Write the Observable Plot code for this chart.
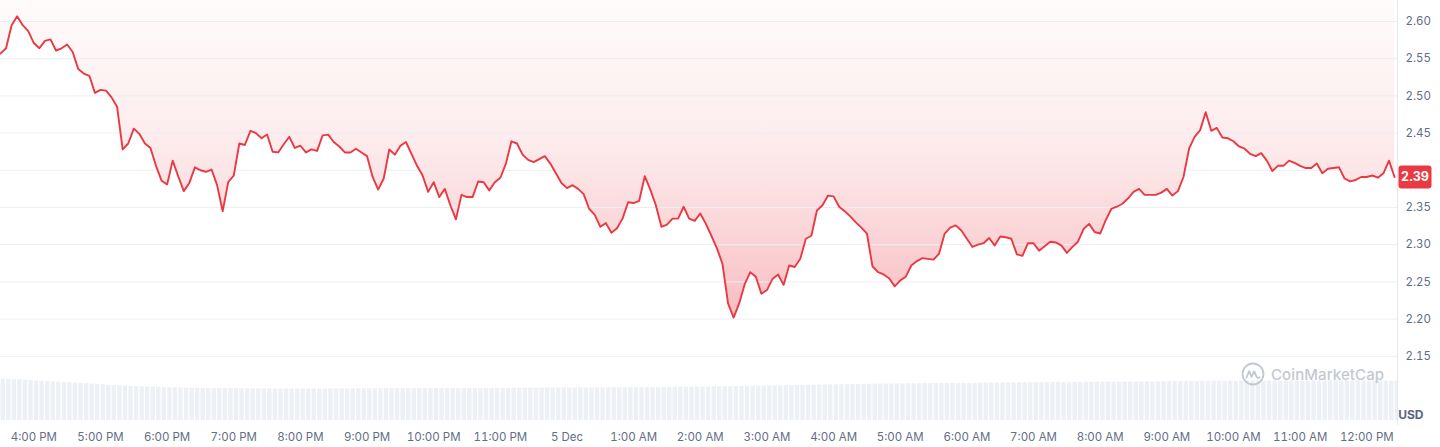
<!DOCTYPE html>
<html>
<head>
<meta charset="utf-8">
<script src="https://cdn.jsdelivr.net/npm/d3@7"></script>
<script src="https://cdn.jsdelivr.net/npm/@observablehq/plot@0.6"></script>
<style>
  html, body { margin: 0; padding: 0; background: #ffffff; }
  #wrap { position: relative; width: 1440px; height: 447px; overflow: hidden; font-family: Inter, sans-serif; }
  #wrap > .layer { position: absolute; left: 0; top: 0; }
  #wm { position: absolute; left: 1241px; top: 362px; display: flex; align-items: center; gap: 6px;
        color: #c3c8d0; font-family: Inter, sans-serif; font-size: 15px; font-weight: 500; letter-spacing: 0.1px; }
</style>
</head>
<body>
<div id="wrap"></div>
<script>
// ---- data (5-minute points from 3:30 PM, 4 Dec) ----
const startTime = Date.UTC(2024, 11, 4, 15, 30);
const endTime = Date.UTC(2024, 11, 5, 12, 27, 40);
const stepMinutes = 5;

const prices = [
  2.557, 2.564, 2.595, 2.607, 2.595, 2.587, 2.571, 2.564, 2.574, 2.576, 2.561, 2.564,
  2.569, 2.559, 2.536, 2.530, 2.527, 2.504, 2.508, 2.507, 2.498, 2.485, 2.428, 2.436,
  2.456, 2.449, 2.436, 2.430, 2.406, 2.386, 2.381, 2.413, 2.392, 2.372, 2.383, 2.404,
  2.400, 2.398, 2.401, 2.380, 2.345, 2.384, 2.393, 2.436, 2.434, 2.453, 2.450, 2.443,
  2.448, 2.425, 2.424, 2.435, 2.445, 2.430, 2.433, 2.424, 2.428, 2.426, 2.447, 2.448,
  2.438, 2.432, 2.424, 2.424, 2.429, 2.424, 2.419, 2.391, 2.374, 2.389, 2.428, 2.421,
  2.433, 2.438, 2.422, 2.406, 2.393, 2.371, 2.384, 2.364, 2.375, 2.353, 2.334, 2.367,
  2.364, 2.364, 2.385, 2.384, 2.373, 2.384, 2.390, 2.409, 2.439, 2.436, 2.421, 2.414,
  2.411, 2.415, 2.419, 2.409, 2.396, 2.383, 2.376, 2.380, 2.375, 2.368, 2.348, 2.340,
  2.324, 2.329, 2.316, 2.322, 2.335, 2.357, 2.356, 2.359, 2.392, 2.374, 2.353, 2.324,
  2.327, 2.335, 2.335, 2.351, 2.335, 2.332, 2.342, 2.328, 2.312, 2.295, 2.274, 2.221,
  2.202, 2.221, 2.247, 2.263, 2.257, 2.234, 2.239, 2.254, 2.260, 2.246, 2.272, 2.270,
  2.281, 2.308, 2.312, 2.346, 2.353, 2.366, 2.365, 2.351, 2.345, 2.338, 2.330, 2.323,
  2.315, 2.271, 2.263, 2.260, 2.255, 2.244, 2.252, 2.257, 2.272, 2.278, 2.282, 2.281,
  2.280, 2.288, 2.315, 2.323, 2.326, 2.319, 2.308, 2.297, 2.300, 2.302, 2.309, 2.299,
  2.311, 2.310, 2.308, 2.287, 2.285, 2.302, 2.302, 2.292, 2.298, 2.304, 2.303, 2.299,
  2.289, 2.297, 2.304, 2.321, 2.328, 2.317, 2.315, 2.333, 2.348, 2.351, 2.355, 2.362,
  2.371, 2.375, 2.367, 2.367, 2.367, 2.370, 2.375, 2.366, 2.372, 2.391, 2.429, 2.445,
  2.454, 2.478, 2.453, 2.457, 2.444, 2.443, 2.439, 2.432, 2.429, 2.422, 2.419, 2.423,
  2.413, 2.399, 2.406, 2.406, 2.413, 2.410, 2.406, 2.403, 2.403, 2.409, 2.396, 2.402,
  2.403, 2.404, 2.389, 2.385, 2.387, 2.391, 2.391, 2.393, 2.390, 2.396, 2.413, 2.391
];

// 24h volume (millions USD)
const volumes = [
  845, 842, 838, 830, 826, 818, 808, 800, 795, 790, 784, 778,
  772, 765, 760, 752, 744, 738, 730, 722, 716, 710, 704, 700,
  696, 690, 686, 682, 678, 674, 670, 668, 665, 662, 660, 660,
  658, 656, 655, 654, 652, 652, 650, 650, 649, 648, 648, 648,
  647, 647, 646, 646, 646, 645, 645, 645, 646, 646, 646, 647,
  647, 648, 648, 648, 649, 649, 650, 650, 650, 651, 651, 652,
  652, 652, 653, 653, 654, 654, 654, 655, 655, 656, 656, 656,
  657, 657, 658, 658, 658, 659, 659, 660, 660, 661, 661, 662,
  662, 663, 663, 664, 664, 665, 665, 666, 667, 667, 668, 668,
  669, 670, 670, 671, 672, 672, 673, 674, 675, 675, 676, 677,
  678, 679, 680, 681, 682, 683, 684, 686, 687, 688, 690, 692,
  694, 696, 698, 700, 702, 704, 706, 708, 710, 712, 714, 716,
  718, 720, 722, 724, 726, 728, 730, 732, 734, 736, 738, 740,
  742, 744, 745, 746, 747, 748, 749, 750, 751, 752, 753, 754,
  755, 756, 757, 758, 759, 760, 761, 762, 763, 764, 765, 766,
  767, 768, 769, 770, 771, 772, 773, 774, 775, 776, 777, 778,
  779, 780, 781, 782, 783, 784, 784, 785, 785, 786, 786, 786,
  787, 788, 789, 790, 791, 792, 793, 794, 795, 796, 797, 797,
  798, 799, 800, 801, 802, 803, 804, 805, 806, 806, 807, 807,
  808, 808, 809, 809, 810, 810, 810, 811, 811, 811, 811, 812,
  812, 812, 812, 811, 811, 811, 810, 810, 809, 808, 806, 804
];

const xTickLabels = ["4:00 PM", "5:00 PM", "6:00 PM", "7:00 PM", "8:00 PM", "9:00 PM", "10:00 PM",
  "11:00 PM", "5 Dec", "1:00 AM", "2:00 AM", "3:00 AM", "4:00 AM", "5:00 AM", "6:00 AM",
  "7:00 AM", "8:00 AM", "9:00 AM", "10:00 AM", "11:00 AM", "12:00 PM"];
const firstTick = Date.UTC(2024, 11, 4, 16, 0);

const yGrid = [2.15, 2.20, 2.25, 2.30, 2.35, 2.40, 2.45, 2.50, 2.55, 2.60];
const yTickLabels = [2.15, 2.20, 2.25, 2.30, 2.35, 2.45, 2.50, 2.55, 2.60];
const yDomain = [2.0637, 2.6282];
const currency = "USD";

// ---- derived tables ----
const series = prices.map((p, i) => ({ time: new Date(startTime + i * stepMinutes * 60000), price: p, vol: volumes[i] }));
const tickTimes = xTickLabels.map((_, i) => new Date(firstTick + i * 3600000));
const tickLabelMap = new Map(tickTimes.map((t, i) => [+t, xTickLabels[i]]));
const lastPrice = prices[prices.length - 1];

const W = 1440, H = 447;
const common = { width: W, height: H, marginLeft: 0, marginRight: 43, marginTop: 0, marginBottom: 27 };
const RED = "#ea3943";
const TEXT = "#616e85";

// ---- volume layer ----
const volPlot = Plot.plot({
  ...common,
  style: { background: "transparent" },
  x: { type: "utc", domain: [new Date(startTime), new Date(endTime)], axis: null },
  y: { domain: [0, 900], range: [420, 376], axis: null },
  marks: [
    Plot.rectY(series, { x: "time", y: "vol", interval: d3.utcMinute.every(stepMinutes), insetLeft: 0.6, insetRight: 0.6, fill: "#edf0f4", clip: true })
  ]
});
volPlot.classList.add("layer");

// gradient defs
const gradientDefs = () => {
  const ns = "http://www.w3.org/2000/svg";
  const defs = document.createElementNS(ns, "defs");
  const g = document.createElementNS(ns, "linearGradient");
  g.setAttribute("id", "cmcFill");
  g.setAttribute("gradientUnits", "userSpaceOnUse");
  g.setAttribute("x1", 0); g.setAttribute("x2", 0);
  g.setAttribute("y1", 0); g.setAttribute("y2", 320);
  [[0, 0.02], [0.45, 0.10], [0.75, 0.22], [1, 0.34]].forEach(([o, a]) => {
    const s = document.createElementNS(ns, "stop");
    s.setAttribute("offset", o);
    s.setAttribute("stop-color", RED);
    s.setAttribute("stop-opacity", a);
    g.appendChild(s);
  });
  defs.appendChild(g);
  return defs;
};

const tagSymbol = {
  draw(ctx) {
    const w = 33, h = 23, r = 3, x0 = -w / 2, y0 = -h / 2;
    ctx.moveTo(x0 + r, y0);
    ctx.lineTo(x0 + w - r, y0);
    ctx.arcTo(x0 + w, y0, x0 + w, y0 + r, r);
    ctx.lineTo(x0 + w, y0 + h - r);
    ctx.arcTo(x0 + w, y0 + h, x0 + w - r, y0 + h, r);
    ctx.lineTo(x0 + r, y0 + h);
    ctx.arcTo(x0, y0 + h, x0, y0 + h - r, r);
    ctx.lineTo(x0, y0 + r);
    ctx.arcTo(x0, y0, x0 + r, y0, r);
    ctx.closePath();
  }
};

// ---- price layer ----
const pricePlot = Plot.plot({
  ...common,
  style: { background: "transparent", fontFamily: "Inter, sans-serif", fontSize: "11.5px", color: TEXT },
  x: { type: "utc", domain: [new Date(startTime), new Date(endTime)] },
  y: { domain: yDomain },
  marks: [
    gradientDefs,
    Plot.areaY(series, { x: "time", y1: () => yDomain[1], y2: "price", fill: "url(#cmcFill)", curve: "linear" }),
    Plot.ruleY(yGrid, { stroke: "#eceef2", strokeWidth: 1 }),
    Plot.ruleX([new Date(endTime)], { stroke: "#e4e7eb", strokeWidth: 1, insetBottom: -5 }),
    Plot.lineY(series, { x: "time", y: "price", stroke: RED, strokeWidth: 1.9, strokeLinejoin: "round", strokeLinecap: "round" }),
    Plot.axisY(yTickLabels, { anchor: "right", tickSize: 0, tickPadding: 8, textAnchor: "start", tickFormat: d => d.toFixed(2), label: null, fill: TEXT }),
    Plot.axisX(tickTimes, { anchor: "bottom", tickSize: 0, tickPadding: 12, tickFormat: d => tickLabelMap.get(+d), label: null, fill: TEXT }),
    Plot.text([currency], { frameAnchor: "bottom-right", text: d => d, dx: 26, dy: -2, fontWeight: "bold", fontSize: 12, fill: "#58667e" }),
    Plot.dot([lastPrice], { x: () => new Date(endTime), y: d => d, symbol: tagSymbol, r: 10, fill: RED, stroke: "none", dx: 17.5 }),
    Plot.text([lastPrice], { x: () => new Date(endTime), y: d => d, text: d => d.toFixed(2), dx: 17.5, fill: "white", fontWeight: "bold", fontSize: 12.5 })
  ]
});
pricePlot.classList.add("layer");

const wrap = document.getElementById("wrap");
wrap.appendChild(volPlot);
wrap.appendChild(pricePlot);

// watermark
const wm = document.createElement("div");
wm.id = "wm";
wm.innerHTML = '<svg width="24" height="24" viewBox="0 0 24 24"><circle cx="12" cy="12" r="10.5" fill="none" stroke="#c3c8d0" stroke-width="1.8"/>' +
  '<path d="M5.5 15.5 L8.2 9.2 L10.6 14.8 L13.2 9.2 L15.4 14.6 Q16.5 16.6 18.6 15.2" fill="none" stroke="#c3c8d0" stroke-width="1.8" stroke-linejoin="round" stroke-linecap="round"/></svg>' +
  '<span>CoinMarketCap</span>';
wrap.appendChild(wm);
</script>
</body>
</html>
